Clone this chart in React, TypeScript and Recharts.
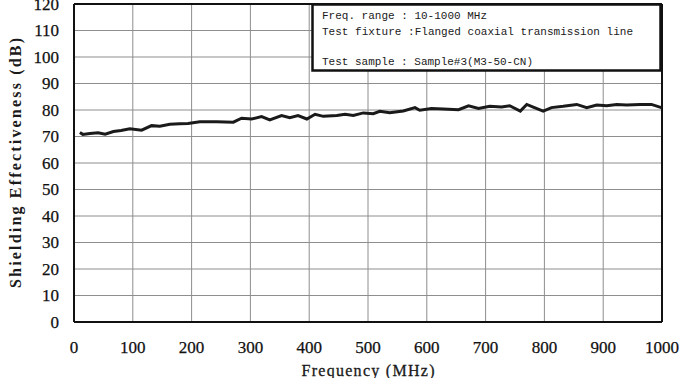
import React from 'react';
import { LineChart, Line, XAxis, YAxis, CartesianGrid, ReferenceLine, Label } from 'recharts';

const freqMHz = [10, 15, 27, 41, 53, 67, 80, 95, 115, 132, 146, 163, 180, 194, 214, 243, 271, 285, 302, 319, 333, 353, 367, 381, 396, 410, 424, 447, 461, 475, 492, 509, 520, 537, 560, 580, 588, 608, 628, 654, 671, 688, 707, 727, 741, 759, 770, 781, 798, 812, 832, 855, 872, 889, 906, 923, 940, 963, 982, 999];
const shieldingDb = [71.5, 70.8, 71.1, 71.4, 70.9, 71.9, 72.3, 72.9, 72.4, 74.1, 73.9, 74.6, 74.8, 74.9, 75.6, 75.6, 75.4, 76.9, 76.6, 77.5, 76.3, 77.9, 77.1, 77.9, 76.6, 78.4, 77.6, 77.9, 78.4, 77.9, 78.9, 78.6, 79.5, 79.0, 79.6, 80.9, 79.9, 80.6, 80.4, 80.1, 81.6, 80.6, 81.4, 81.1, 81.6, 79.6, 82.1, 81.1, 79.6, 80.9, 81.4, 82.1, 80.9, 81.9, 81.6, 82.1, 81.9, 82.1, 82.1, 80.9];
const xTicks = [0, 100, 200, 300, 400, 500, 600, 700, 800, 900, 1000];
const yTicks = [0, 10, 20, 30, 40, 50, 60, 70, 80, 90, 100, 110, 120];
const infoLines = ['Freq. range : 10-1000 MHz', 'Test fixture :Flanged coaxial transmission line', 'Test sample : Sample#3(M3-50-CN)'];
const xTitle = 'Frequency (MHz)';
const yTitle = 'Shielding Effectiveness (dB)';

const data = freqMHz.map((f, i) => ({ f, se: shieldingDb[i] }));

const SERIF = 'Liberation Serif, Times New Roman, serif';
const MONO = 'Liberation Mono, Courier New, monospace';

const XTick = (props: any) => {
  const { x, y, payload } = props;
  return (
    <text x={x} y={y + 11} textAnchor="middle" fontFamily={SERIF} fontSize={17} fill="#111" stroke="#111" strokeWidth={0.25}>
      {payload.value}
    </text>
  );
};

const YTick = (props: any) => {
  const { x, y, payload } = props;
  return (
    <text x={x} y={y + 5.5} textAnchor="end" fontFamily={SERIF} fontSize={17} fill="#111" stroke="#111" strokeWidth={0.25}>
      {payload.value}
    </text>
  );
};

export default function App() {
  return (
    <div style={{ position: 'absolute', left: 0, top: 0, width: 685, height: 378, background: '#fff', fontFamily: SERIF }}>
      <LineChart width={685} height={378} data={data} margin={{ top: 4, right: 23, left: 0, bottom: 0 }}>
        <CartesianGrid stroke="#8e8e8e" strokeWidth={1} />
        <XAxis
          dataKey="f"
          type="number"
          domain={[0, 1000]}
          ticks={xTicks}
          height={56}
          tickSize={0}
          tickMargin={20}
          axisLine={{ stroke: '#111', strokeWidth: 2 }}
          tick={<XTick />}
          interval={0}
        >
          <Label
            content={() => (
              <text x={368} y={376} textAnchor="middle" fontFamily={SERIF} fontSize={16} fill="#1a1a1a" stroke="#1a1a1a" strokeWidth={0.3} textLength={133} lengthAdjust="spacing">
                {xTitle}
              </text>
            )}
          />
        </XAxis>
        <YAxis
          type="number"
          domain={[0, 120]}
          ticks={yTicks}
          width={74}
          tickSize={0}
          tickMargin={15}
          axisLine={{ stroke: '#111', strokeWidth: 2 }}
          tick={<YTick />}
          interval={0}
        >
          <Label
            content={() => (
              <text
                x={0}
                y={0}
                transform="translate(21,163) rotate(-90)"
                textAnchor="middle"
                fontFamily={SERIF}
                fontWeight="bold"
                fontSize={16}
                fill="#1a1a1a"
                textLength={250}
                lengthAdjust="spacing"
              >
                {yTitle}
              </text>
            )}
          />
        </YAxis>
        <ReferenceLine y={120} stroke="#111" strokeWidth={2} />
        <ReferenceLine x={1000} stroke="#111" strokeWidth={2} />
        <Line type="linear" dataKey="se" stroke="#1a1a1a" strokeWidth={3} dot={false} isAnimationActive={false} />
      </LineChart>
      <svg width={352} height={70} style={{ position: 'absolute', left: 311, top: 3 }}>
        <rect x={1.5} y={1.5} width={348} height={66} fill="#fff" stroke="#111" strokeWidth={2.5} />
        <text x={11} y={16} fontFamily={MONO} fontSize={11} fill="#1a1a1a" textLength={165} lengthAdjust="spacing">{infoLines[0]}</text>
        <text x={11} y={32} fontFamily={MONO} fontSize={11} fill="#1a1a1a" textLength={311} lengthAdjust="spacing">{infoLines[1]}</text>
        <text x={11} y={62} fontFamily={MONO} fontSize={11} fill="#1a1a1a" textLength={211} lengthAdjust="spacing">{infoLines[2]}</text>
      </svg>
    </div>
  );
}
